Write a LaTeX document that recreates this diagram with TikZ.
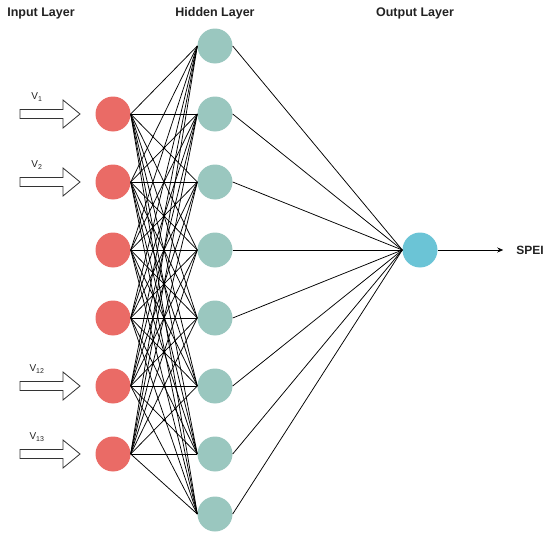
\documentclass[tikz,border=0pt]{standalone}
\usepackage{fontspec}
\setmainfont{Liberation Sans}
\usepackage{tikz}
\usetikzlibrary{positioning,calc,arrows.meta}
\definecolor{inputred}{HTML}{EA6B66}
\definecolor{hiddengreen}{HTML}{9AC7BF}
\definecolor{outputblue}{HTML}{6BC4D6}
\definecolor{textgray}{HTML}{222222}
\tikzset{
  neuron/.style={circle,minimum size=35pt,inner sep=0pt},
  layertitle/.style={font=\bfseries\fontsize{12.5}{14}\selectfont,text=textgray},
  vlabel/.style={font=\fontsize{10}{12}\selectfont,text=textgray},
  blockarrow/.style={draw=black!80,fill=white,line width=0.8pt},
  link/.style={black,line width=0.75pt}
}

\begin{document}
\begin{tikzpicture}[x=1pt,y=-1pt]
					\useasboundingbox (0,0) rectangle (550,538);
					% layer titles
					\node[layertitle] (titlein) at (41,13) {Input Layer};
					\node[layertitle] (titlehid) at (215,13) {Hidden Layer};
					\node[layertitle] (titleout) at (415,13) {Output Layer};
					% neurons
					\foreach \i/\y in {1/114,2/182,3/250,4/318,5/386,6/454}
						\node[neuron,fill=inputred] (in\i) at (113,\y) {};
					\foreach \j/\y in {1/46,2/114,3/182,4/250,5/318,6/386,7/454,8/514}
						\node[neuron,fill=hiddengreen] (hid\j) at (215,\y) {};
					\node[neuron,fill=outputblue] (out) at (420,250) {};
					% connections
					\foreach \i in {1,...,6}
						\foreach \j in {1,...,8}
							\draw[link] (in\i.east) -- (hid\j.west);
					\foreach \j in {1,...,8}
						\draw[link] (hid\j.east) -- (out.west);
					\node[font=\bfseries\fontsize{12}{14}\selectfont,anchor=east,inner sep=1pt,text=textgray] (spei) at (545,250) {SPEI};
					\draw[link,-{Stealth[length=6pt,width=5pt]}] (out.east) -- ($(spei.west)+(-12,0)$);
					% input arrows
					\foreach \i/\k in {1/1,2/2,5/12,6/13}{
						\draw[blockarrow] ($(in\i)+(-93,-4.5)$) -- ++(43,0) -- ++(0,-9.5)
							-- ++(17,14) -- ++(-17,14) -- ++(0,-9.5) -- ++(-43,0) -- cycle;
						\node[vlabel] (v\k) at ($(in\i)+(-76,-17)$) {V\textsubscript{\k}};
					}
				\end{tikzpicture}
\end{document}
